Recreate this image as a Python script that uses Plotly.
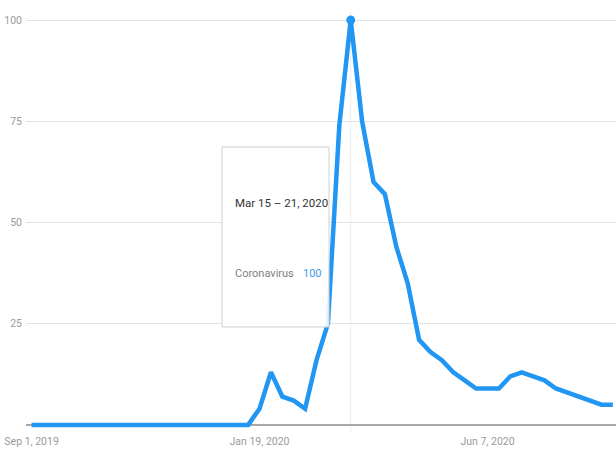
import pandas as pd
import plotly.graph_objects as go

# Weekly interest values, starting week of Sep 1, 2019
start_week = "2019-09-01"
values = [0, 0, 0, 0, 0, 0, 0, 0, 0, 0,
          0, 0, 0, 0, 0, 0, 0, 0, 0, 0,
          4, 13, 7, 6, 4, 16, 25, 74, 100, 75,
          60, 57, 44, 35, 21, 18, 16, 13, 11, 9,
          9, 9, 12, 13, 12, 11, 9, 8, 7, 6,
          5, 5]
series_name = "Coronavirus"
tick_dates = ["2019-09-01", "2020-01-19", "2020-06-07"]
tick_labels = ["Sep 1, 2019", "Jan 19, 2020", "Jun 7, 2020"]
y_ticks = [25, 50, 75, 100]
tooltip_title = "Mar 15 \u2013 21, 2020"

weeks = pd.date_range(start=start_week, periods=len(values), freq="7D")
peak_i = values.index(max(values))
peak_date = weeks[peak_i]

FONT = "Roboto, sans-serif"
BLUE = "#2196f3"

fig = go.Figure()
fig.add_trace(go.Scatter(
    x=weeks, y=values, mode="lines", name=series_name,
    line=dict(color=BLUE, width=4.5), hoverinfo="skip"))
fig.add_trace(go.Scatter(
    x=[peak_date], y=[values[peak_i]], mode="markers",
    marker=dict(color=BLUE, size=9), hoverinfo="skip", cliponaxis=False))

# vertical hover line at peak
fig.add_shape(type="line", xref="x", yref="paper", x0=peak_date, x1=peak_date,
              y0=0, y1=1, line=dict(color="#ececec", width=1), layer="below")

# tooltip box
fig.add_shape(type="rect", xref="paper", yref="paper",
              x0=0.3322, x1=0.5136, y0=0.2518, y1=0.6793,
              fillcolor="rgba(255,255,255,0.88)",
              line=dict(color="#cfcfcf", width=1), layer="above")
fig.add_annotation(xref="paper", yref="paper", x=0.3508, y=0.5463,
                   xanchor="left", yanchor="middle", showarrow=False,
                   text=tooltip_title,
                   font=dict(family=FONT, size=11.5, color="#333333"))
fig.add_annotation(xref="paper", yref="paper", x=0.3508, y=0.3777,
                   xanchor="left", yanchor="middle", showarrow=False,
                   text=series_name,
                   font=dict(family=FONT, size=11, color="#808080"))
fig.add_annotation(xref="paper", yref="paper", x=0.4661, y=0.3777,
                   xanchor="left", yanchor="middle", showarrow=False,
                   text=str(values[peak_i]),
                   font=dict(family=FONT, size=11, color="#3d9be9"))

x_lo = weeks[0] - pd.Timedelta(hours=82)
x_hi = weeks[-1] + pd.Timedelta(hours=46)

fig.update_layout(
    width=616, height=459,
    margin=dict(l=26, r=0, t=12, b=26),
    paper_bgcolor="white", plot_bgcolor="white",
    showlegend=False, hovermode=False,
    font=dict(family=FONT, color="#9a9a9a", size=11),
    xaxis=dict(range=[x_lo, x_hi], tickvals=tick_dates, ticktext=tick_labels,
               showgrid=False, zeroline=False, showline=False, ticks="",
               automargin=False, ticklabeloverflow="allow",
               tickfont=dict(family=FONT, size=10.5, color="#9a9a9a")),
    yaxis=dict(range=[-2, 102], tickvals=y_ticks, showgrid=True,
               gridcolor="#e2e2e2", gridwidth=1,
               zeroline=True, zerolinecolor="#a8a8a8", zerolinewidth=2,
               ticks="", ticklabelstandoff=3, automargin=False,
               ticklabeloverflow="allow",
               tickfont=dict(family=FONT, size=10.5, color="#9a9a9a")),
)

fig.write_html("out.html", config={"displayModeBar": False, "staticPlot": True},
               post_script="document.body.style.margin='0';")
